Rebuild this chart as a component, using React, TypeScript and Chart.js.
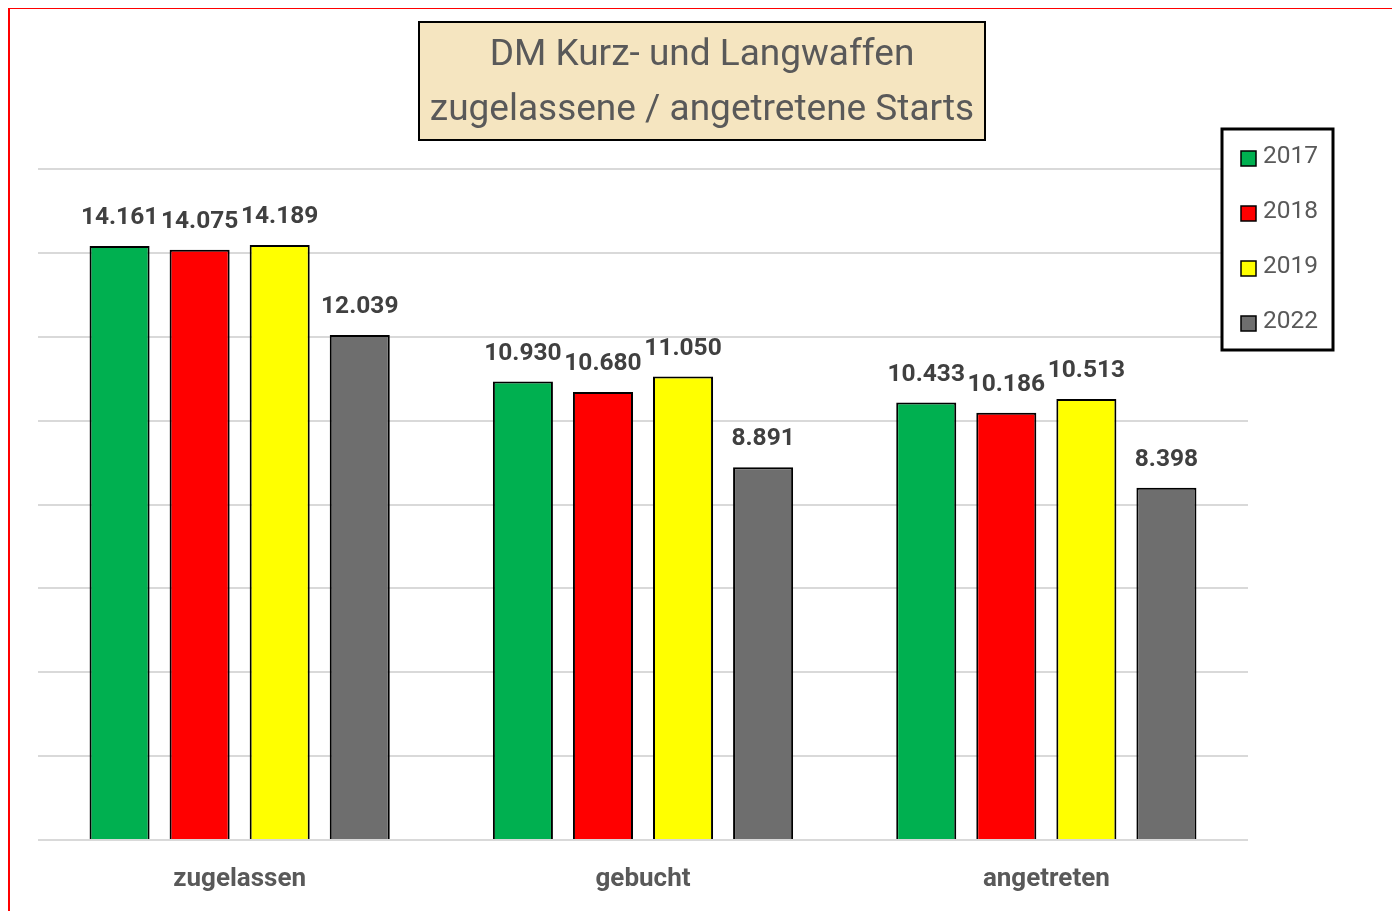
import React, { useEffect, useRef } from "react";
import { Chart, registerables } from "chart.js";

Chart.register(...registerables);

const categories = ["zugelassen", "gebucht", "angetreten"];
const years = ["2017", "2018", "2019", "2022"];
const values2017 = [14161, 10930, 10433];
const values2018 = [14075, 10680, 10186];
const values2019 = [14189, 11050, 10513];
const values2022 = [12039, 8891, 8398];
const seriesColors = ["#00B050", "#FF0000", "#FFFF00", "#6E6E6E"];
const titleLines = ["DM Kurz- und Langwaffen", "zugelassene / angetretene Starts"];
const yMin = 0;
const yMax = 16000;
const yStep = 2000;

const FONT = "Roboto, 'Noto Sans', sans-serif";

function fmt(v: number): string {
  const s = Math.round(v).toString();
  return s.replace(/\B(?=(\d{3})+(?!\d))/g, ".");
}

const dataLabelPlugin = {
  id: "dataLabels",
  afterDatasetsDraw(chart: any) {
    const ctx = chart.ctx;
    ctx.save();
    ctx.font = `bold 24.5px ${FONT}`;
    ctx.fillStyle = "#404040";
    ctx.textAlign = "center";
    ctx.textBaseline = "middle";
    chart.data.datasets.forEach((ds: any, i: number) => {
      const meta = chart.getDatasetMeta(i);
      meta.data.forEach((bar: any, j: number) => {
        ctx.fillText(fmt(ds.data[j]), bar.x, bar.y - 28);
      });
    });
    ctx.restore();
  },
};

const titleBoxPlugin = {
  id: "titleBox",
  afterDraw(chart: any) {
    const ctx = chart.ctx;
    ctx.save();
    const x = 409, y = 13, w = 566, h = 118;
    ctx.fillStyle = "#F5E5C0";
    ctx.fillRect(x, y, w, h);
    ctx.strokeStyle = "#000000";
    ctx.lineWidth = 2;
    ctx.strokeRect(x, y, w, h);
    ctx.fillStyle = "#595959";
    ctx.font = `37px ${FONT}`;
    ctx.textAlign = "center";
    ctx.textBaseline = "middle";
    ctx.fillText(titleLines[0], x + w / 2, 47);
    ctx.fillText(titleLines[1], x + w / 2, 102);
    ctx.restore();
  },
};

const legendBoxPlugin = {
  id: "legendBox",
  afterDraw(chart: any) {
    const ctx = chart.ctx;
    ctx.save();
    const x = 1212, y = 120, w = 111, h = 221;
    ctx.fillStyle = "#FFFFFF";
    ctx.fillRect(x, y, w, h);
    ctx.strokeStyle = "#000000";
    ctx.lineWidth = 3;
    ctx.strokeRect(x, y, w, h);
    ctx.font = `24.5px ${FONT}`;
    ctx.textBaseline = "middle";
    ctx.textAlign = "left";
    chart.data.datasets.forEach((ds: any, i: number) => {
      const cy = 148 + i * 55;
      ctx.fillStyle = ds.backgroundColor;
      ctx.fillRect(1231, cy - 6, 15, 15);
      ctx.lineWidth = 1.5;
      ctx.strokeStyle = "#000000";
      ctx.strokeRect(1231, cy - 6, 15, 15);
      ctx.fillStyle = "#595959";
      ctx.fillText(ds.label, 1253, cy);
    });
    ctx.restore();
  },
};

export default function App() {
  const ref = useRef<HTMLCanvasElement | null>(null);

  useEffect(() => {
    if (!ref.current) return;
    const seriesValues = [values2017, values2018, values2019, values2022];
    const chart = new Chart(ref.current, {
      type: "bar",
      data: {
        labels: categories,
        datasets: years.map((y, i) => ({
          label: y,
          data: seriesValues[i],
          backgroundColor: seriesColors[i],
          borderColor: "#000000",
          borderWidth: 2,
          barPercentage: 0.75,
          categoryPercentage: 0.794,
        })),
      },
      options: {
        responsive: false,
        animation: false,
        devicePixelRatio: 1,
        layout: { padding: { left: 28, right: 146, top: 160, bottom: 0 } },
        plugins: {
          legend: { display: false },
          title: { display: false },
          tooltip: { enabled: false },
        },
        scales: {
          x: {
            grid: { display: false, drawTicks: false },
            border: { display: false },
            ticks: {
              color: "#595959",
              font: { family: FONT, size: 26, weight: "bold" },
              padding: 24,
            },
            afterFit(scale: any) {
              scale.height = 70;
            },
          },
          y: {
            min: yMin,
            max: yMax,
            ticks: { display: false, stepSize: yStep },
            grid: { color: "#D9D9D9", lineWidth: 2, drawTicks: false },
            border: { display: false },
            afterFit(scale: any) {
              scale.width = 0;
            },
          },
        },
      },
      plugins: [dataLabelPlugin, titleBoxPlugin, legendBoxPlugin],
    });
    return () => chart.destroy();
  }, []);

  return (
    <div
      style={{
        width: 1388,
        height: 920,
        border: "2px solid #FF0000",
        boxSizing: "border-box",
        position: "relative",
        marginTop: -1,
        background: "#FFFFFF",
      }}
    >
      <canvas
        ref={ref}
        width={1384}
        height={901}
        style={{ position: "absolute", left: 0, top: 0, width: 1384, height: 901 }}
      />
    </div>
  );
}
